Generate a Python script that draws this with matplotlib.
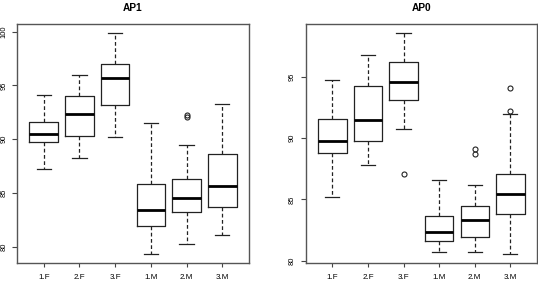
import matplotlib
matplotlib.use("Agg")
import matplotlib.pyplot as plt

plt.rcParams['font.family'] = ['Liberation Sans', 'DejaVu Sans']

categories = ["1.F", "2.F", "3.F", "1.M", "2.M", "3.M"]

# AP1 stats: lower whisker, Q1, median, Q3, upper whisker
ap1_low = [87.2, 88.3, 90.2, 79.3, 80.3, 81.1]
ap1_q1 = [89.7, 90.3, 93.2, 81.9, 83.25, 83.7]
ap1_med = [90.5, 92.3, 95.7, 83.4, 84.5, 85.7]
ap1_q3 = [91.6, 94.0, 97.0, 85.8, 86.35, 88.6]
ap1_high = [94.1, 96.0, 99.85, 91.5, 89.5, 93.3]
ap1_out = [[], [], [], [], [92.25, 92.05], []]

# AP0 stats
ap0_low = [85.2, 87.8, 90.8, 80.7, 80.7, 80.5]
ap0_q1 = [88.8, 89.8, 93.1, 81.6, 81.9, 83.8]
ap0_med = [89.8, 91.5, 94.6, 82.3, 83.3, 85.45]
ap0_q3 = [91.6, 94.3, 96.2, 83.65, 84.45, 87.1]
ap0_high = [94.75, 96.8, 98.6, 86.6, 86.2, 92.0]
ap0_out = [[], [], [87.1], [], [89.15, 88.7], [94.1, 92.2]]

ap1_ticks = [80, 85, 90, 95, 100]
ap0_ticks = [80, 85, 90, 95]

fig = plt.figure(figsize=(5.38, 2.83), dpi=100)
ax1 = fig.add_axes([17.3 / 538, 19.7 / 283, 231.4 / 538, 239.0 / 283])
ax2 = fig.add_axes([306.0 / 538, 19.7 / 283, 230.7 / 538, 239.0 / 283])

line_col = "#222222"


def draw(ax, title, low, q1, med, q3, high, outs, yticks):
    stats = []
    for i in range(len(categories)):
        stats.append(dict(whislo=low[i], q1=q1[i], med=med[i], q3=q3[i],
                          whishi=high[i], fliers=outs[i], label=categories[i]))
    ax.bxp(stats, positions=range(1, len(categories) + 1), widths=0.8,
           boxprops=dict(color=line_col, linewidth=0.9),
           medianprops=dict(color="black", linewidth=2.0, solid_capstyle="butt"),
           whiskerprops=dict(color=line_col, linewidth=0.9, linestyle=(0, (3, 2))),
           capprops=dict(color=line_col, linewidth=0.9),
           capwidths=0.4,
           flierprops=dict(marker="o", markerfacecolor="none", markeredgecolor=line_col,
                           markersize=3.6, markeredgewidth=0.8))
    allv = low + high + [v for o in outs for v in o]
    lo, hi = min(allv), max(allv)
    r = hi - lo
    ax.set_ylim(lo - 0.04 * r, hi + 0.04 * r)
    ax.set_xlim(0.5 - 0.04 * 6, 6.5 + 0.04 * 6)
    ax.set_yticks(yticks)
    ax.set_yticklabels([str(t) for t in yticks], rotation=90, va="center", fontsize=5.4)
    ax.set_xticks(range(1, len(categories) + 1))
    ax.set_xticklabels(categories, fontsize=5.8)
    ax.tick_params(axis="y", length=3.3, width=0.8, color="#444444", pad=4.0)
    ax.tick_params(axis="x", length=2.6, width=0.8, color="#444444", pad=4.8)
    for s in ax.spines.values():
        s.set_color("#555555")
        s.set_linewidth(1.0)
    ax.set_title(title, fontsize=7.3, fontweight="bold", pad=9.5)


draw(ax1, "AP1", ap1_low, ap1_q1, ap1_med, ap1_q3, ap1_high, ap1_out, ap1_ticks)
draw(ax2, "AP0", ap0_low, ap0_q1, ap0_med, ap0_q3, ap0_high, ap0_out, ap0_ticks)

fig.savefig("out.png", dpi=100)
